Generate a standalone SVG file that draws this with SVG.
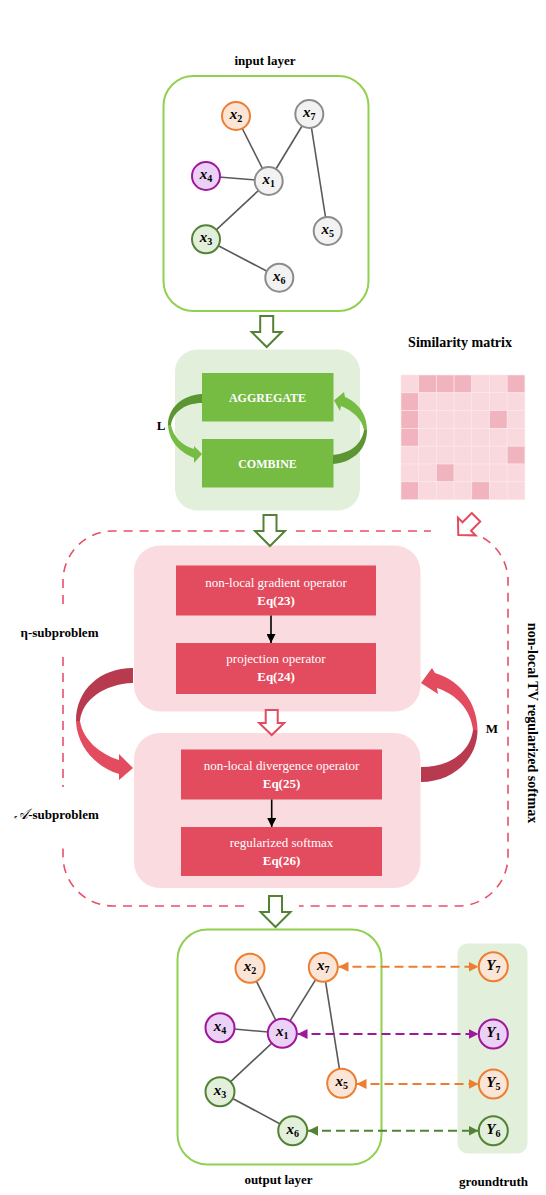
<svg xmlns="http://www.w3.org/2000/svg" width="546" height="1195" viewBox="0 0 546 1195">
<defs>
<style>
.t{font-family:"Liberation Serif",serif;font-weight:bold;font-size:13px;fill:#000;text-anchor:middle}
.tw{font-family:"Liberation Serif",serif;font-size:13px;fill:#fff;text-anchor:middle}
.twb{font-family:"Liberation Serif",serif;font-weight:bold;font-size:13px;fill:#fff;text-anchor:middle}
.tg{font-family:"Liberation Serif",serif;font-weight:bold;font-size:12px;fill:#fff;text-anchor:middle}
.m{font-family:"Liberation Serif",serif;font-style:italic;font-weight:bold;font-size:15px;fill:#000;text-anchor:middle}
.s{font-size:10px;font-style:normal}
.org{fill:#fbe5d6;stroke:#ed7d31;stroke-width:2}
.pur{fill:#ead1f5;stroke:#a0169c;stroke-width:2}
.grn{fill:#e2efda;stroke:#548235;stroke-width:2}
.gry{fill:#f2f2f2;stroke:#8c8c8c;stroke-width:2}
.edge{stroke:#595959;stroke-width:1.6;fill:none}
.hg{fill:#fff;stroke:#548235;stroke-width:2}
.hr{fill:#fff;stroke:#e34b5e;stroke-width:2}
.rb{fill:#e34b5e}
.pk{fill:#f9dbe0}
.dash{fill:none;stroke:#e8506a;stroke-width:1.6;stroke-dasharray:9 7}
.da{fill:none;stroke-width:2;stroke-dasharray:9 5}
.ml{fill:#f9d9de;stroke:#fbe8eb;stroke-width:0.6}
.md{fill:#f1b4be;stroke:#fbe8eb;stroke-width:0.6}
</style>
<marker id="ao" viewBox="0 0 10 10" refX="10" refY="5" markerWidth="10" markerHeight="10" markerUnits="userSpaceOnUse" orient="auto-start-reverse"><path d="M0,0 L10,5 L0,10 z" fill="#ed7d31"/></marker>
<marker id="ap" viewBox="0 0 10 10" refX="10" refY="5" markerWidth="10" markerHeight="10" markerUnits="userSpaceOnUse" orient="auto-start-reverse"><path d="M0,0 L10,5 L0,10 z" fill="#a0169c"/></marker>
<marker id="ag" viewBox="0 0 10 10" refX="10" refY="5" markerWidth="10" markerHeight="10" markerUnits="userSpaceOnUse" orient="auto-start-reverse"><path d="M0,0 L10,5 L0,10 z" fill="#548235"/></marker>
<marker id="ab" viewBox="0 0 10 10" refX="10" refY="5" markerWidth="9" markerHeight="9" markerUnits="userSpaceOnUse" orient="auto"><path d="M0,0 L10,5 L0,10 z" fill="#000"/></marker>
<path id="hollowG" d="M-6.5,-31 L6.5,-31 L6.5,-15 L15,-15 L0,0 L-15,-15 L-6.5,-15 Z"/>
<path id="hollowR" d="M-6,-25 L6,-25 L6,-12 L12.5,-12 L0,0 L-12.5,-12 L-6,-12 Z"/>
</defs>
<rect width="546" height="1195" fill="#fff"/>

<!-- input layer -->
<g id="input-layer">
<text class="t" x="265" y="65">input layer</text>
<rect x="163.5" y="76" width="205" height="235" rx="30" fill="#fff" stroke="#92d050" stroke-width="2"/>
<g id="in-edges">
<line class="edge" x1="236" y1="116" x2="268.7" y2="181"/>
<line class="edge" x1="309.3" y1="114" x2="268.7" y2="181"/>
<line class="edge" x1="206" y1="176" x2="268.7" y2="181"/>
<line class="edge" x1="268.7" y1="181" x2="206" y2="239.3"/>
<line class="edge" x1="206" y1="239.3" x2="279.3" y2="277.7"/>
<line class="edge" x1="309.3" y1="114" x2="327.7" y2="231"/>
</g>
<g id="in-x2"><circle class="org" cx="236" cy="116" r="14"/><text class="m" x="236" y="119">x<tspan class="s" dy="3">2</tspan></text></g>
<g id="in-x7"><circle class="gry" cx="309.3" cy="114" r="14"/><text class="m" x="309.3" y="117">x<tspan class="s" dy="3">7</tspan></text></g>
<g id="in-x4"><circle class="pur" cx="206" cy="176" r="14"/><text class="m" x="206" y="179">x<tspan class="s" dy="3">4</tspan></text></g>
<g id="in-x1"><circle class="gry" cx="268.7" cy="181" r="14"/><text class="m" x="268.7" y="184">x<tspan class="s" dy="3">1</tspan></text></g>
<g id="in-x5"><circle class="gry" cx="327.7" cy="231" r="14"/><text class="m" x="327.7" y="234">x<tspan class="s" dy="3">5</tspan></text></g>
<g id="in-x3"><circle class="grn" cx="206" cy="239.3" r="14"/><text class="m" x="206" y="242.3">x<tspan class="s" dy="3">3</tspan></text></g>
<g id="in-x6"><circle class="gry" cx="279.3" cy="277.7" r="14"/><text class="m" x="279.3" y="280.7">x<tspan class="s" dy="3">6</tspan></text></g>
</g>

<!-- GNN block -->
<g id="gnn-block">
<rect x="175" y="349.5" width="185" height="161" rx="22" fill="#e2efda"/>
<g id="aggregate"><rect x="202" y="373" width="131.5" height="48.5" fill="#76bb42"/><text class="tg" x="267.5" y="401.5">AGGREGATE</text></g>
<g id="combine"><rect x="202" y="439" width="131.5" height="48.5" fill="#76bb42"/><text class="tg" x="267.5" y="467.5">COMBINE</text></g>
<path d="M202,394 C182,395 168,408 168,425 L171,425 C173,412 185,403 202,403 Z" fill="#5c9633"/>
<path d="M168,425 C169,442 180,452 194,458 L194,463 L202,454 L194,446 L194,449 C183,446 173,437 171,425 Z" fill="#76bb42"/>
<path d="M333,464 C355,462 367,448 367,430 L364,430 C362,443 352,453 333,455 Z" fill="#5c9633"/>
<path d="M367,430 C367,413 357,402 345,397 L344,392 L334,400.5 L340,411 L341,406 C353,411 362,419 364,430 Z" fill="#76bb42"/>
<text class="t" x="161" y="430">L</text>
</g>

<!-- similarity matrix -->
<g id="similarity-matrix">
<text class="t" x="460" y="347" style="font-size:14px">Similarity matrix</text>
<g>
<rect class="ml" x="401" y="375" width="17.7" height="17.8"/><rect class="md" x="418.7" y="375" width="17.7" height="17.8"/><rect class="md" x="436.4" y="375" width="17.7" height="17.8"/><rect class="md" x="454.1" y="375" width="17.7" height="17.8"/><rect class="ml" x="471.8" y="375" width="17.7" height="17.8"/><rect class="ml" x="489.5" y="375" width="17.7" height="17.8"/><rect class="md" x="507.2" y="375" width="17.7" height="17.8"/>
<rect class="md" x="401" y="392.8" width="17.7" height="17.8"/><rect class="ml" x="418.7" y="392.8" width="17.7" height="17.8"/><rect class="ml" x="436.4" y="392.8" width="17.7" height="17.8"/><rect class="ml" x="454.1" y="392.8" width="17.7" height="17.8"/><rect class="ml" x="471.8" y="392.8" width="17.7" height="17.8"/><rect class="ml" x="489.5" y="392.8" width="17.7" height="17.8"/><rect class="ml" x="507.2" y="392.8" width="17.7" height="17.8"/>
<rect class="md" x="401" y="410.6" width="17.7" height="17.8"/><rect class="ml" x="418.7" y="410.6" width="17.7" height="17.8"/><rect class="ml" x="436.4" y="410.6" width="17.7" height="17.8"/><rect class="ml" x="454.1" y="410.6" width="17.7" height="17.8"/><rect class="ml" x="471.8" y="410.6" width="17.7" height="17.8"/><rect class="md" x="489.5" y="410.6" width="17.7" height="17.8"/><rect class="ml" x="507.2" y="410.6" width="17.7" height="17.8"/>
<rect class="md" x="401" y="428.4" width="17.7" height="17.8"/><rect class="ml" x="418.7" y="428.4" width="17.7" height="17.8"/><rect class="ml" x="436.4" y="428.4" width="17.7" height="17.8"/><rect class="ml" x="454.1" y="428.4" width="17.7" height="17.8"/><rect class="ml" x="471.8" y="428.4" width="17.7" height="17.8"/><rect class="ml" x="489.5" y="428.4" width="17.7" height="17.8"/><rect class="ml" x="507.2" y="428.4" width="17.7" height="17.8"/>
<rect class="ml" x="401" y="446.2" width="17.7" height="17.8"/><rect class="ml" x="418.7" y="446.2" width="17.7" height="17.8"/><rect class="ml" x="436.4" y="446.2" width="17.7" height="17.8"/><rect class="ml" x="454.1" y="446.2" width="17.7" height="17.8"/><rect class="ml" x="471.8" y="446.2" width="17.7" height="17.8"/><rect class="ml" x="489.5" y="446.2" width="17.7" height="17.8"/><rect class="md" x="507.2" y="446.2" width="17.7" height="17.8"/>
<rect class="ml" x="401" y="464" width="17.7" height="17.8"/><rect class="ml" x="418.7" y="464" width="17.7" height="17.8"/><rect class="md" x="436.4" y="464" width="17.7" height="17.8"/><rect class="ml" x="454.1" y="464" width="17.7" height="17.8"/><rect class="ml" x="471.8" y="464" width="17.7" height="17.8"/><rect class="ml" x="489.5" y="464" width="17.7" height="17.8"/><rect class="ml" x="507.2" y="464" width="17.7" height="17.8"/>
<rect class="md" x="401" y="481.8" width="17.7" height="17.8"/><rect class="ml" x="418.7" y="481.8" width="17.7" height="17.8"/><rect class="ml" x="436.4" y="481.8" width="17.7" height="17.8"/><rect class="ml" x="454.1" y="481.8" width="17.7" height="17.8"/><rect class="md" x="471.8" y="481.8" width="17.7" height="17.8"/><rect class="ml" x="489.5" y="481.8" width="17.7" height="17.8"/><rect class="ml" x="507.2" y="481.8" width="17.7" height="17.8"/>
</g>
</g>

<!-- TV block -->
<g id="tv-block">
<path class="dash" d="M63,604 L63,581 A50,50 0 0 1 113,531 L246,531"/>
<path class="dash" d="M296,531 L431,531"/>
<path class="dash" d="M483,537.7 A50,50 0 0 1 508,581 L508,856 A50,50 0 0 1 458,906 L299,906"/>
<path class="dash" d="M244,906 L113,906 A50,50 0 0 1 63,856 L63,842"/>
<path class="dash" d="M63,657 L63,787"/>
<text class="t" x="59.5" y="637">η-subproblem</text>
<text class="t" x="56.5" y="819"><tspan style="font-family:'DejaVu Serif','DejaVu Sans',serif;font-style:italic;font-weight:normal;font-size:15px">𝒜</tspan>-subproblem</text>
<text class="t" style="font-size:14px" transform="translate(528,723) rotate(90)">non-local TV regularized softmax</text>
<text class="t" x="492" y="733">M</text>
</g>

<g id="eta-box">
<rect class="pk" x="134" y="545.5" width="286.5" height="166" rx="26"/>
</g>
<g id="a-box">
<rect class="pk" x="134" y="733" width="286.5" height="155" rx="26"/>
</g>
<g id="gradient-op"><rect class="rb" x="176" y="565.5" width="200" height="50"/><text class="tw" x="276" y="587">non-local gradient operator</text><text class="twb" x="276" y="605">Eq(23)</text></g>
<g id="projection-op"><rect class="rb" x="176" y="643" width="200" height="51"/><text class="tw" x="276" y="663">projection operator</text><text class="twb" x="276" y="681">Eq(24)</text></g>
<g id="divergence-op"><rect class="rb" x="181" y="749.5" width="201" height="50"/><text class="tw" x="281.5" y="769.5">non-local divergence operator</text><text class="twb" x="281.5" y="788">Eq(25)</text></g>
<g id="softmax"><rect class="rb" x="181" y="827" width="201" height="49"/><text class="tw" x="281.5" y="847">regularized softmax</text><text class="twb" x="281.5" y="865">Eq(26)</text></g>

<!-- output layer -->
<g id="output-layer">
<rect x="177.5" y="929.5" width="204" height="235" rx="30" fill="#fff" stroke="#92d050" stroke-width="2"/>
<text class="t" x="278.5" y="1184">output layer</text>
<g id="out-edges">
<line class="edge" x1="250" y1="968.3" x2="282.3" y2="1033.3"/>
<line class="edge" x1="323.3" y1="967.3" x2="282.3" y2="1033.3"/>
<line class="edge" x1="220" y1="1027.7" x2="282.3" y2="1033.3"/>
<line class="edge" x1="282.3" y1="1033.3" x2="220" y2="1091.7"/>
<line class="edge" x1="220" y1="1091.7" x2="292.7" y2="1130.7"/>
<line class="edge" x1="323.3" y1="967.3" x2="341.7" y2="1083.3"/>
</g>
<g id="out-x2"><circle class="org" cx="250" cy="968.3" r="14.5"/><text class="m" x="250" y="971.3">x<tspan class="s" dy="3">2</tspan></text></g>
<g id="out-x7"><circle class="org" cx="323.3" cy="967.3" r="14.5"/><text class="m" x="323.3" y="970.3">x<tspan class="s" dy="3">7</tspan></text></g>
<g id="out-x4"><circle class="pur" cx="220" cy="1027.7" r="14.5"/><text class="m" x="220" y="1030.7">x<tspan class="s" dy="3">4</tspan></text></g>
<g id="out-x1"><circle class="pur" cx="282.3" cy="1033.3" r="14.5"/><text class="m" x="282.3" y="1036.3">x<tspan class="s" dy="3">1</tspan></text></g>
<g id="out-x5"><circle class="org" cx="341.7" cy="1083.3" r="14.5"/><text class="m" x="341.7" y="1086.3">x<tspan class="s" dy="3">5</tspan></text></g>
<g id="out-x3"><circle class="grn" cx="220" cy="1091.7" r="14.5"/><text class="m" x="220" y="1094.7">x<tspan class="s" dy="3">3</tspan></text></g>
<g id="out-x6"><circle class="grn" cx="292.7" cy="1130.7" r="14.5"/><text class="m" x="292.7" y="1133.7">x<tspan class="s" dy="3">6</tspan></text></g>
</g>

<!-- groundtruth -->
<g id="groundtruth">
<rect x="457.5" y="943.5" width="70" height="210" rx="10" fill="#e2efda"/>
<text class="t" x="493.5" y="1186">groundtruth</text>
<g id="gt-y7"><circle class="org" cx="493.3" cy="966.7" r="14.5"/><text class="m" x="493.3" y="970">Y<tspan class="s" dy="3">7</tspan></text></g>
<g id="gt-y1"><circle class="pur" cx="493.3" cy="1034" r="14.5"/><text class="m" x="493.3" y="1037.3">Y<tspan class="s" dy="3">1</tspan></text></g>
<g id="gt-y5"><circle class="org" cx="493.3" cy="1084" r="14.5"/><text class="m" x="493.3" y="1087.3">Y<tspan class="s" dy="3">5</tspan></text></g>
<g id="gt-y6"><circle class="grn" cx="493.3" cy="1130.7" r="14.5"/><text class="m" x="493.3" y="1134">Y<tspan class="s" dy="3">6</tspan></text></g>
</g>

<!-- connectors -->
<g id="connectors">
<use href="#hollowG" class="hg" transform="translate(266.7,347)"/>
<use href="#hollowG" class="hg" transform="translate(270,546)"/>
<use href="#hollowG" class="hg" transform="translate(275.5,927)"/>
<use href="#hollowR" class="hr" transform="translate(271.7,735)"/>
<use href="#hollowR" class="hr" transform="translate(458.3,535) rotate(45)"/>
<line x1="271" y1="615.5" x2="271" y2="643" stroke="#000" stroke-width="1.6" marker-end="url(#ab)"/>
<line x1="271.7" y1="799.5" x2="271.7" y2="827" stroke="#000" stroke-width="1.6" marker-end="url(#ab)"/>
<path d="M133,668 C100,668 76,690 76,721 L80,721 C82,700 104,684 133,683 Z" fill="#b83a4f"/>
<path d="M76,721 C77,748 98,768 119,774 L119,780 L133,768 L119,754 L119,760 C100,754 83,740 80,721 Z" fill="#e34b5e"/>
<path d="M421,767 C450,767 470,752 473,730 L477.5,730 C477.5,760 452,782 421,782 Z" fill="#b83a4f"/>
<path d="M477.5,730 C477.5,705 462,681 435,673 L432,668 L421,683 L438,694 L437,688 C456,694 471,710 473,730 Z" fill="#e34b5e"/>
<line class="da" stroke="#ed7d31" x1="338.5" y1="966.8" x2="478.5" y2="966.8" marker-start="url(#ao)" marker-end="url(#ao)"/>
<line class="da" stroke="#a0169c" x1="297.5" y1="1034" x2="478.5" y2="1034" marker-start="url(#ap)" marker-end="url(#ap)"/>
<line class="da" stroke="#ed7d31" x1="356.5" y1="1084" x2="478.5" y2="1084" marker-start="url(#ao)" marker-end="url(#ao)"/>
<line class="da" stroke="#548235" x1="308" y1="1130.8" x2="478.5" y2="1130.8" marker-start="url(#ag)" marker-end="url(#ag)"/>
</g>
</svg>
